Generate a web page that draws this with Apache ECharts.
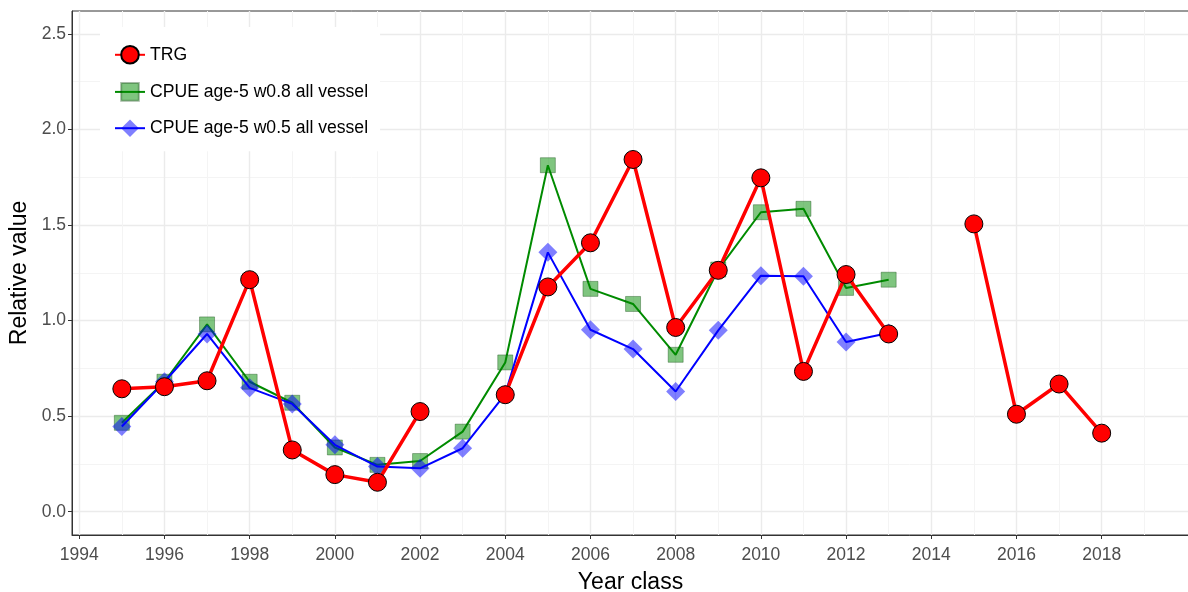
<!DOCTYPE html>
<html><head><meta charset="utf-8">
<script src="https://cdn.jsdelivr.net/npm/echarts@6/dist/echarts.min.js"></script>
<style>html,body{margin:0;padding:0;background:#fff}#c{width:1188px;height:592px}</style>
</head><body><div id="c"></div>
<script>
const years = [1995,1996,1997,1998,1999,2000,2001,2002,2003,2004,2005,2006,2007,2008,2009,2010,2011,2012,2013,2014,2015,2016,2017,2018];
const trg   = [0.643,0.654,0.685,1.214,0.323,0.194,0.154,0.524,null,0.612,1.176,1.407,1.843,0.964,1.263,1.747,0.734,1.241,0.930,null,1.506,0.510,0.668,0.411];
const cpue08= [0.465,0.680,0.980,0.680,0.570,0.336,0.245,0.265,0.419,0.781,1.813,1.166,1.087,0.821,1.267,1.567,1.585,1.171,1.214,null,null,null,null,null];
const cpue05= [0.446,0.680,0.930,0.648,0.564,0.350,0.236,0.227,0.332,0.615,1.357,0.952,0.851,0.629,0.949,1.235,1.232,0.888,0.935,null,null,null,null,null];
const seriesNames = ['TRG','CPUE age-5 w0.8 all vessel','CPUE age-5 w0.5 all vessel'];
const xTicks = [1994,1996,1998,2000,2002,2004,2006,2008,2010,2012,2014,2016,2018];
const xMinor = [1995,1997,1999,2001,2003,2005,2007,2009,2011,2013,2015,2017,2019];
const yTicks = [0,0.5,1,1.5,2,2.5];
const yMinor = [0.25,0.75,1.25,1.75,2.25];
const xTitle = 'Year class';
const yTitle = 'Relative value';

function pairs(v){ return years.map((y,i)=>[y, v[i]]); }
const font = 'Liberation Sans, Arial, sans-serif';
const X0 = 1993.83, X1 = 2020.05, Y0 = -0.122, Y1 = 2.62;
const chart = echarts.init(document.getElementById('c'));
chart.setOption({
  animation:false,
  backgroundColor:'#fff',
  grid:{left:72, top:11, right:-1, bottom:57, show:true, borderColor:'#333', borderWidth:1,
        containLabel:false, outerBoundsMode:'none'},
  legend:{
    data:seriesNames, orient:'vertical', left:100, top:27,
    backgroundColor:'#fff', padding:[18,12,14,14], itemGap:17.5,
    itemWidth:30, itemHeight:22,
    textStyle:{fontFamily:font, fontSize:17.6, color:'#000'}
  },
  xAxis:[{
    type:'value', min:X0, max:X1,
    name:xTitle, nameLocation:'middle', nameGap:36,
    nameTextStyle:{fontFamily:font, fontSize:23, color:'#000'},
    axisLine:{show:true, onZero:false, lineStyle:{color:'#333', width:1}},
    axisTick:{show:true, length:4, customValues:xTicks, lineStyle:{color:'#333'}},
    axisLabel:{fontFamily:font, fontSize:17.5, color:'#4d4d4d', margin:11, customValues:xTicks, formatter:v=>String(v)},
    splitLine:{show:true, lineStyle:{color:'#ebebeb', width:1.4}}
  },{
    type:'value', min:X0, max:X1, position:'top',
    axisLine:{show:false}, axisLabel:{show:false},
    axisTick:{show:false, customValues:xMinor},
    splitLine:{show:true, lineStyle:{color:'#f4f4f4', width:1}}
  }],
  yAxis:[{
    type:'value', min:Y0, max:Y1,
    name:yTitle, nameLocation:'middle', nameGap:40, nameRotate:90,
    nameTextStyle:{fontFamily:font, fontSize:23, color:'#000'},
    axisLine:{show:true, onZero:false, lineStyle:{color:'#333', width:1}},
    axisTick:{show:true, length:4, customValues:yTicks, lineStyle:{color:'#333'}},
    axisLabel:{fontFamily:font, fontSize:17.5, color:'#4d4d4d', margin:6, customValues:yTicks, formatter:v=>v.toFixed(1)},
    splitLine:{show:true, lineStyle:{color:'#ebebeb', width:1.4}}
  },{
    type:'value', min:Y0, max:Y1, position:'right',
    axisLine:{show:false}, axisLabel:{show:false},
    axisTick:{show:false, customValues:yMinor},
    splitLine:{show:true, lineStyle:{color:'#f4f4f4', width:1}}
  }],
  series:[
    {name:seriesNames[1], type:'line', data:pairs(cpue08), z:2,
     symbol:'rect', symbolSize:15, showAllSymbol:true,
     lineStyle:{color:'#008B00', width:2},
     itemStyle:{color:'rgba(0,139,0,0.5)', borderColor:'rgba(0,60,0,0.35)', borderWidth:1}},
    {name:seriesNames[2], type:'line', data:pairs(cpue05), z:3,
     symbol:'diamond', symbolSize:19, showAllSymbol:true,
     lineStyle:{color:'#0000FF', width:2},
     itemStyle:{color:'rgba(0,0,255,0.5)', borderWidth:0}},
    {name:seriesNames[0], type:'line', data:pairs(trg), z:4,
     symbol:'circle', symbolSize:18, showAllSymbol:true,
     lineStyle:{color:'#FF0000', width:3.5},
     itemStyle:{color:'#FF0000', borderColor:'#000', borderWidth:1}}
  ]
});
</script></body></html>
